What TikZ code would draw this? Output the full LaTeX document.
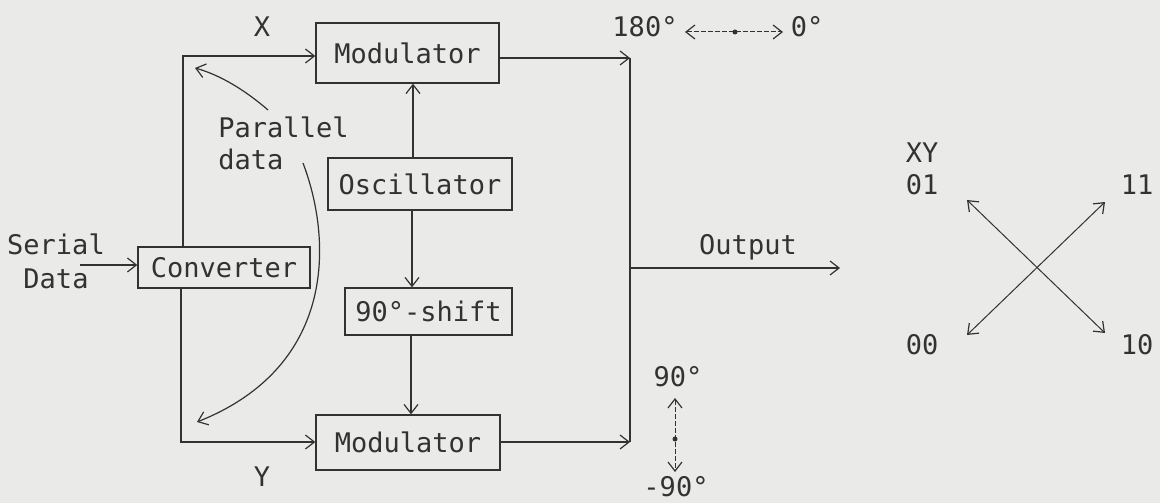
\documentclass[tikz,border=0pt]{standalone}
\usepackage{fontspec}
\setmonofont{DejaVu Sans Mono}
\usetikzlibrary{arrows.meta}
\definecolor{paper}{RGB}{234,234,232}
\definecolor{ink}{RGB}{50,50,50}
\begin{document}
\begin{tikzpicture}[x=1pt,y=-1pt,
  font=\ttfamily\fontsize{27}{32}\selectfont, text=ink,
  box/.style={draw=ink, line width=1.3pt, inner sep=0pt},
  tip/.tip={Straight Barb[length=9pt,width=14pt,line width=1.2pt]},
  arr/.style={draw=ink, line width=1.2pt, -tip},
  ln/.style={draw=ink, line width=1.2pt},
  dbl/.style={draw=ink, line width=1pt, tip-tip},
  dsh/.style={draw=ink, line width=1pt, dash pattern=on 5pt off 2pt, tip-tip},
  lbl/.style={inner sep=0pt}]
\fill[paper] (0,0) rectangle (1160,503);
\useasboundingbox (0,0) rectangle (1160,503);

% boxes
\node[box, minimum width=183pt, minimum height=60pt] (modtop) at (407.5,53) {Modulator};
\node[box, minimum width=184pt, minimum height=52pt] (osc) at (420,184) {Oscillator};
\node[box, minimum width=172pt, minimum height=41pt] (conv) at (224,267.5) {Converter};
\node[box, minimum width=167pt, minimum height=47pt] (shift) at (428.5,311.5) {90°-shift};
\node[box, minimum width=184pt, minimum height=55pt] (modbot) at (408,442.5) {Modulator};

% labels
\node[lbl] (lx) at (262,27) {X};
\node[lbl] (ly) at (262,477) {Y};
\node[lbl, align=left] (par) at (283.5,143) {Parallel\\data};
\node[lbl, align=center, font=\ttfamily\fontsize{27}{34}\selectfont] (ser) at (56,261) {Serial\\Data};
\node[lbl] (outl) at (748,247) {Output};
\node[lbl] (l180) at (645,27) {180°};
\node[lbl] (l0) at (807,27) {0°};
\node[lbl] (l90) at (678,377) {90°};
\node[lbl] (lm90) at (676,487) {-90°};
\node[lbl] (xy) at (922,153) {XY};
\node[lbl] (s01) at (922,185) {01};
\node[lbl] (s11) at (1137,185) {11};
\node[lbl] (s00) at (922,345) {00};
\node[lbl] (s10) at (1137,345) {10};

% coordinates
\coordinate (xc) at (183,56);
\coordinate (yc) at (181,442);
\coordinate (v1) at (413,0);
\coordinate (v2) at (412,0);
\coordinate (v3) at (411,0);
\coordinate (ct) at (630,58);
\coordinate (cb) at (630,442);
\coordinate (co) at (630,268);
\coordinate (out) at (840,268);
\coordinate (sin) at (80,265);
\coordinate (ha) at (685,32);
\coordinate (hb) at (783,32);
\coordinate (hd) at (735,32);
\coordinate (va) at (675,398);
\coordinate (vb) at (675,472);
\coordinate (vd) at (675,439);
\coordinate (c01) at (967,200);
\coordinate (c10) at (1105,333);
\coordinate (c00) at (967,335);
\coordinate (c11) at (1105,202);
\coordinate (p1) at (268,110);
\coordinate (p1e) at (195,68);
\coordinate (p2) at (303,163);
\coordinate (p2e) at (197,422);

% connectors
\draw[arr] (sin) -- (conv.west |- sin);
\draw[arr] (conv.north -| xc) -- (xc) -- (modtop.west |- xc);
\draw[arr] (conv.south -| yc) -- (yc) -- (modbot.west |- yc);
\draw[arr] (osc.north -| v1) -- (modtop.south -| v1);
\draw[arr] (osc.south -| v2) -- (shift.north -| v2);
\draw[arr] (shift.south -| v3) -- (modbot.north -| v3);
\draw[arr] (modtop.east |- ct) -- (ct);
\draw[arr] (modbot.east |- cb) -- (cb);
\draw[ln] (ct) -- (cb);
\draw[arr] (co) -- (out);

% parallel data curves
\draw[arr] (p1) .. controls (245,90) and (220,75) .. (p1e);
\draw[arr] (p2) .. controls (334,245) and (333,368) .. (p2e);

% phase indicators
\draw[dsh] (ha) -- (hb);
\fill[ink] (hd) circle (2.5pt);
\draw[dsh] (va) -- (vb);
\fill[ink] (vd) circle (2.5pt);

% constellation
\draw[dbl] (c01) -- (c10);
\draw[dbl] (c00) -- (c11);
\end{tikzpicture}
\end{document}
